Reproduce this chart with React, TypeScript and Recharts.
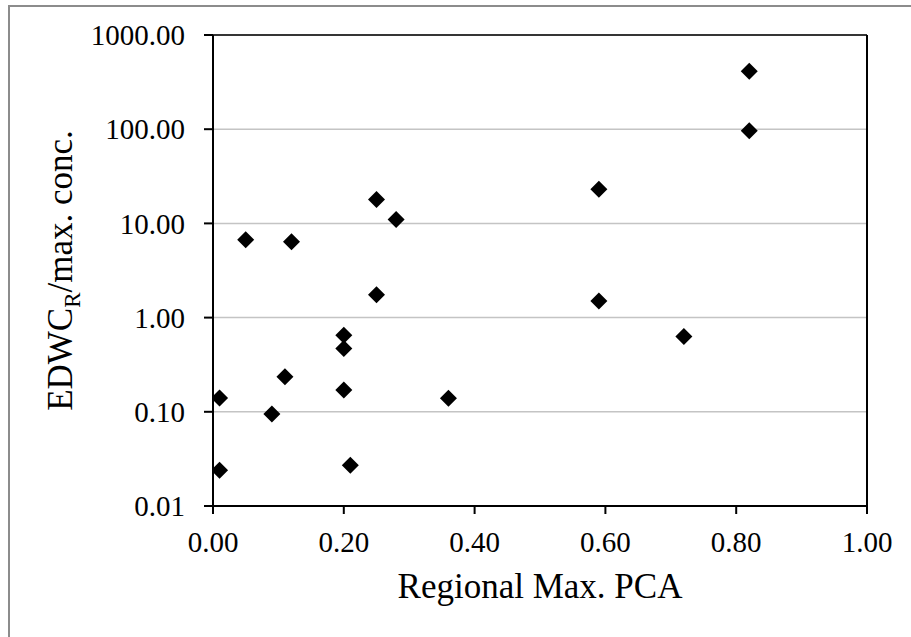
import React from 'react';
import { ScatterChart, Scatter, XAxis, YAxis, CartesianGrid, ReferenceLine, Label } from 'recharts';

// values
const pcaValues = [0.01, 0.01, 0.05, 0.12, 0.09, 0.11, 0.2, 0.2, 0.2, 0.21, 0.25, 0.28, 0.25, 0.36, 0.59, 0.59, 0.72, 0.82, 0.82];
const ratioValues = [0.024, 0.14, 6.7, 6.4, 0.095, 0.235, 0.65, 0.47, 0.17, 0.027, 17.9, 11, 1.75, 0.139, 23.1, 1.5, 0.63, 413, 96];
const xTicks = [0, 0.2, 0.4, 0.6, 0.8, 1];
const yTicks = [0.01, 0.1, 1, 10, 100, 1000];

const points = pcaValues.map((x, i) => ({ x, y: ratioValues[i] }));

const FONT = '"Liberation Serif", "Times New Roman", serif';

const Diamond = (props: any) => {
  const { cx, cy } = props;
  const r = 8.5;
  return <polygon points={`${cx},${cy - r} ${cx + r},${cy} ${cx},${cy + r} ${cx - r},${cy}`} fill="#000" />;
};

const XTitle = (props: any) => {
  const { viewBox } = props;
  const cx = viewBox.x + viewBox.width / 2;
  return (
    <text x={cx} y={598} textAnchor="middle" fontSize={35} fontFamily={FONT} fill="#000">
      Regional Max. PCA
    </text>
  );
};

const YTitle = (props: any) => {
  const { viewBox } = props;
  const cy = viewBox.y + viewBox.height / 2;
  const x = 72;
  return (
    <text
      x={x}
      y={cy}
      transform={`rotate(-90, ${x}, ${cy})`}
      textAnchor="middle"
      fontSize={35}
      fontFamily={FONT}
      fill="#000"
    >
      EDWC
      <tspan dy={8} fontSize={23}>R</tspan>
      <tspan dy={-8}>/max. conc.</tspan>
    </text>
  );
};

const App: React.FC = () => (
  <div style={{ position: 'absolute', left: 0, top: 0, width: 911, height: 637, overflow: 'hidden', background: '#fff' }}>
    <div
      style={{
        position: 'absolute',
        left: 8,
        top: 5,
        width: 960,
        height: 630,
        borderLeft: '2px solid #8c8c8c',
        borderTop: '2px solid #8c8c8c',
        borderBottom: '1px solid #d4d4d4',
      }}
    />
    <div style={{ position: 'absolute', left: 0, top: 0 }}>
      <ScatterChart width={911} height={637} margin={{ top: 35, right: 44, left: 93, bottom: 41 }}>
        <CartesianGrid horizontal vertical={false} stroke="#c4c4c4" strokeWidth={1.5} />
        <XAxis
          type="number"
          dataKey="x"
          domain={[0, 1]}
          ticks={xTicks}
          tickFormatter={(v: number) => v.toFixed(2)}
          height={90}
          tickSize={8}
          tickMargin={17}
          stroke="#000"
          strokeWidth={2}
          tick={{ fill: '#000', fontSize: 29, fontFamily: FONT }}
          allowDataOverflow
        >
          <Label content={<XTitle />} />
        </XAxis>
        <YAxis
          type="number"
          dataKey="y"
          scale="log"
          domain={[0.01, 1000]}
          ticks={yTicks}
          tickFormatter={(v: number) => v.toFixed(2)}
          width={120}
          tickSize={9}
          tickMargin={19}
          stroke="#000"
          strokeWidth={2}
          tick={{ fill: '#000', fontSize: 29, fontFamily: FONT }}
          allowDataOverflow
        >
          <Label content={<YTitle />} />
        </YAxis>
        <ReferenceLine y={1000} stroke="#000" strokeWidth={1.5} />
        <ReferenceLine x={1} stroke="#000" strokeWidth={2} />
        <Scatter data={points} shape={<Diamond />} isAnimationActive={false} />
      </ScatterChart>
    </div>
  </div>
);

export default App;
